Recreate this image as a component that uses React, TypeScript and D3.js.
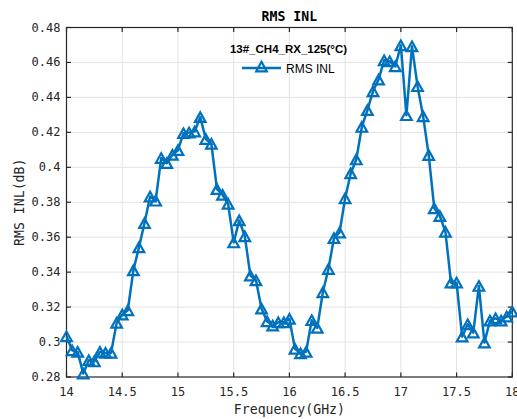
import React from "react";
import * as d3 from "d3";

// Frequency sweep 14–18 GHz in 0.05 GHz steps
const frequencies: number[] = d3.range(0, 81).map((i) => +(14 + i * 0.05).toFixed(2));

// RMS INL (dB) measured at each frequency
const rmsInl: number[] = [
  0.3033, 0.2953, 0.2944, 0.282, 0.2896, 0.2889, 0.2944, 0.2938, 0.2938, 0.311,
  0.3157, 0.3182, 0.341, 0.3542, 0.3681, 0.3833, 0.3809, 0.4053, 0.4024, 0.4071,
  0.4098, 0.4195, 0.4199, 0.4205, 0.4287, 0.4161, 0.4134, 0.3875, 0.3843, 0.3791,
  0.357, 0.3696, 0.3605, 0.338, 0.3353, 0.3191, 0.3119, 0.3094, 0.3113, 0.3113,
  0.3133, 0.2961, 0.2936, 0.2944, 0.3125, 0.3081, 0.3285, 0.3418, 0.3595, 0.3627,
  0.3823, 0.3965, 0.4045, 0.4231, 0.4327, 0.4435, 0.4502, 0.4612, 0.4607, 0.4578,
  0.4698, 0.4298, 0.4692, 0.4464, 0.4292, 0.407, 0.3765, 0.3721, 0.3631, 0.334,
  0.334, 0.3031, 0.3102, 0.3054, 0.3321, 0.2997, 0.3123, 0.3136, 0.3123, 0.3146,
  0.3174,
];

const xTicks: number[] = [14, 14.5, 15, 15.5, 16, 16.5, 17, 17.5, 18];
const yTicks: number[] = [0.28, 0.3, 0.32, 0.34, 0.36, 0.38, 0.4, 0.42, 0.44, 0.46, 0.48];

const titleText = "RMS INL";
const xLabelText = "Frequency(GHz)";
const yLabelText = "RMS INL(dB)";
const legendTitle = "13#_CH4_RX_125(°C)";
const seriesName = "RMS INL";

const W = 517;
const H = 419;
const left = 66.5;
const right = 512.3;
const top = 27.5;
const bottom = 377;

const lineColor = "#0072BD";
const axisColor = "#262626";
const gridColor = "#e3e3e3";
const mono = "'DejaVu Sans Mono', monospace";
const sans = "'Liberation Sans', Arial, sans-serif";

// Upward triangle marker, centred on its bounding box
const tri = (hw: number, hh: number) => `M0,${-hh}L${hw},${hh}L${-hw},${hh}Z`;

export default function App() {
  const x = d3.scaleLinear().domain([14, 18]).range([left, right]);
  const y = d3.scaleLinear().domain([0.28, 0.48]).range([bottom, top]);

  const pts = frequencies.map((f, i) => [x(f), y(rmsInl[i])] as [number, number]);
  const linePath = d3.line()(pts) || "";
  const tickLen = 4.5;
  const marker = tri(5.3, 4.8);

  return (
    <svg
      width={W}
      height={H}
      style={{ position: "absolute", left: 0, top: 0, background: "#fff" }}
    >
      <rect x={0} y={0} width={W} height={H} fill="#fff" />
      {/* grid */}
      <g stroke={gridColor} strokeWidth={1}>
        {xTicks.slice(1, -1).map((t) => (
          <line key={"gx" + t} x1={x(t)} x2={x(t)} y1={top} y2={bottom} />
        ))}
        {yTicks.slice(1, -1).map((t) => (
          <line key={"gy" + t} x1={left} x2={right} y1={y(t)} y2={y(t)} />
        ))}
      </g>

      {/* axes box and ticks */}
      <g stroke={axisColor} strokeWidth={1.2} fill="none">
        <rect x={left} y={top} width={right - left} height={bottom - top} />
        {xTicks.map((t) => (
          <g key={"tx" + t}>
            <line x1={x(t)} x2={x(t)} y1={bottom} y2={bottom - tickLen} />
            <line x1={x(t)} x2={x(t)} y1={top} y2={top + tickLen} />
          </g>
        ))}
        {yTicks.map((t) => (
          <g key={"ty" + t}>
            <line x1={left} x2={left + tickLen} y1={y(t)} y2={y(t)} />
            <line x1={right} x2={right - tickLen} y1={y(t)} y2={y(t)} />
          </g>
        ))}
      </g>

      {/* tick labels */}
      <g fontFamily={mono} fontSize={12} fill={axisColor}>
        {xTicks.map((t) => (
          <text key={"lx" + t} x={x(t)} y={bottom + 19} textAnchor="middle">
            {String(t)}
          </text>
        ))}
        {yTicks.map((t) => (
          <text key={"ly" + t} x={left - 6} y={y(t) + 4} textAnchor="end">
            {String(t)}
          </text>
        ))}
      </g>

      {/* axis labels and title */}
      <text
        x={(left + right) / 2}
        y={bottom + 37}
        textAnchor="middle"
        fontFamily={mono}
        fontSize={13.2}
        fill={axisColor}
      >
        {xLabelText}
      </text>
      <text
        transform={`translate(24,${(top + bottom) / 2}) rotate(-90)`}
        textAnchor="middle"
        fontFamily={mono}
        fontSize={13.2}
        fill={axisColor}
      >
        {yLabelText}
      </text>
      <text
        x={(left + right) / 2}
        y={21}
        textAnchor="middle"
        fontFamily={mono}
        fontWeight="bold"
        fontSize={13.2}
        fill="#000"
      >
        {titleText}
      </text>

      {/* data series */}
      <path
        d={linePath}
        fill="none"
        stroke={lineColor}
        strokeWidth={2.5}
        strokeLinejoin="round"
      />
      <g fill="none" stroke={lineColor} strokeWidth={2.2} strokeLinejoin="miter">
        {pts.map(([px, py], i) => (
          <path key={"m" + i} d={marker} transform={`translate(${px},${py})`} />
        ))}
      </g>

      {/* legend */}
      <text
        x={288.5}
        y={52.5}
        textAnchor="middle"
        fontFamily={sans}
        fontWeight="bold"
        fontSize={11.5}
        fill="#000"
      >
        {legendTitle}
      </text>
      <line x1={242} x2={281} y1={68} y2={68} stroke={lineColor} strokeWidth={2.5} />
      <path
        d={marker}
        transform="translate(261.5,66.5)"
        fill="none"
        stroke={lineColor}
        strokeWidth={2.2}
      />
      <text x={286} y={72.5} fontFamily={sans} fontSize={12} fill="#000">
        {seriesName}
      </text>
    </svg>
  );
}
